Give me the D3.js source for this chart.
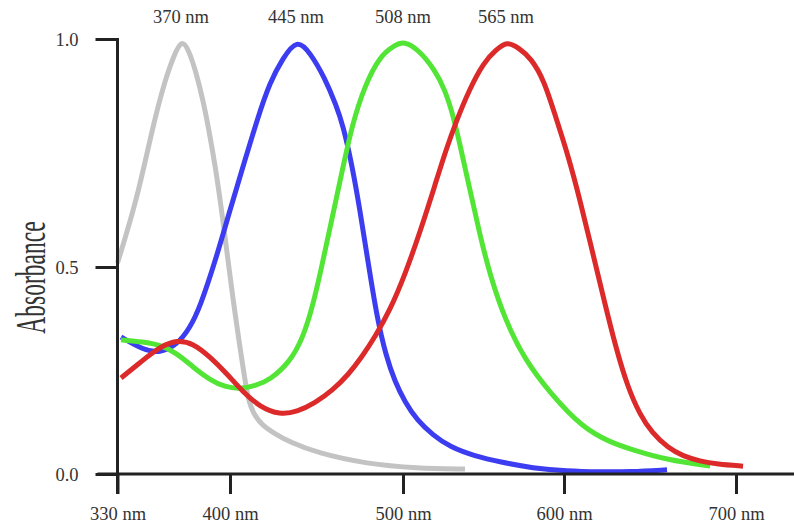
<!DOCTYPE html>
<html>
<head>
<meta charset="utf-8">
<script src="https://cdn.jsdelivr.net/npm/d3@7"></script>
<style>
  body { margin: 0; background: #fff; }
  svg text { font-family: "Liberation Serif", "Times New Roman", serif; fill: #333; }
</style>
</head>
<body>
<div id="chart"></div>
<script>
// wavelength (nm) / absorbance pairs
const grayCurve = [
  [330, 0.509], [342.1, 0.647], [352.1, 0.811], [359.6, 0.910], [365.2, 0.965],
  [370.1, 1.0], [374.5, 0.974], [378.8, 0.928], [383.2, 0.866], [386.9, 0.800],
  [390.7, 0.724], [395.0, 0.621], [401.7, 0.420], [407.5, 0.258], [410.4, 0.179],
  [413.9, 0.143], [418.5, 0.118], [426.0, 0.097], [434.7, 0.077], [450.3, 0.051],
  [479.2, 0.024], [508.7, 0.014], [538.5, 0.012]
];
const blueCurve = [
  [332.2, 0.331], [345.9, 0.300], [356.4, 0.292], [367.0, 0.312], [375.1, 0.353],
  [381.3, 0.403], [390.7, 0.511], [400, 0.625], [408.7, 0.735], [415.6, 0.822],
  [423.1, 0.906], [430.6, 0.958], [438.7, 1.0], [446.2, 0.971], [454.9, 0.914],
  [461.3, 0.855], [465.3, 0.811], [470.5, 0.724], [475.1, 0.625], [479.8, 0.511],
  [485.0, 0.377], [490.2, 0.285], [495.4, 0.222], [501.2, 0.174], [508.7, 0.130],
  [518.6, 0.094], [529.2, 0.065], [544.7, 0.043], [560.2, 0.029], [580.7, 0.014],
  [601.7, 0.007], [620.9, 0.005], [638.4, 0.005], [659.9, 0.010]
];
const greenCurve = [
  [332.2, 0.324], [345.9, 0.319], [356.4, 0.312], [367.0, 0.292], [377.0, 0.258],
  [387.6, 0.227], [396.9, 0.210], [405.8, 0.205], [414.5, 0.213], [423.1, 0.227],
  [434.7, 0.271], [442.2, 0.329], [448.0, 0.408], [453.2, 0.504], [459.0, 0.607],
  [464.7, 0.708], [470.5, 0.811], [478.0, 0.899], [486.7, 0.963], [495.4, 0.987],
  [500.6, 0.995], [509.3, 0.978], [519.9, 0.932], [526.1, 0.888], [531.1, 0.833],
  [535.4, 0.768], [541.6, 0.669], [547.8, 0.570], [554.0, 0.481], [563.4, 0.372],
  [575.8, 0.275], [591.3, 0.196], [611.0, 0.111], [626.7, 0.077], [640.1, 0.058],
  [659.9, 0.034], [684.9, 0.019]
];
const redCurve = [
  [332.2, 0.232], [345.9, 0.275], [356.4, 0.307], [367.0, 0.324], [377.0, 0.316],
  [387.6, 0.283], [398.1, 0.242], [407.5, 0.198], [417.3, 0.162], [428.9, 0.143],
  [438.7, 0.150], [449.1, 0.171], [459.5, 0.203], [468.2, 0.239], [476.3, 0.283],
  [483.8, 0.331], [492.5, 0.396], [501.2, 0.481], [510.6, 0.577], [519.9, 0.680],
  [526.7, 0.757], [532.9, 0.818], [541.0, 0.888], [550.3, 0.950], [557.8, 0.976],
  [564.6, 0.995], [572.0, 0.980], [579.5, 0.958], [587.6, 0.910], [595.0, 0.827],
  [602.3, 0.746], [609.3, 0.647], [616.3, 0.537], [623.3, 0.420], [630.2, 0.304],
  [637.2, 0.208], [644.2, 0.143], [651.2, 0.099], [660.5, 0.063], [669.2, 0.043],
  [679.1, 0.031], [689.0, 0.024], [704.1, 0.019]
];
const peakLabels = ["370 nm", "445 nm", "508 nm", "565 nm"];
const xTicks = [330, 400, 500, 600, 700];
const yTicks = [0, 0.5, 1.0];

const width = 794, height = 524;

const series = [
  { name: peakLabels[0], values: grayCurve,  color: "#c3c3c3" },
  { name: peakLabels[1], values: blueCurve,  color: "#3c3cf0" },
  { name: peakLabels[2], values: greenCurve, color: "#52e536" },
  { name: peakLabels[3], values: redCurve,   color: "#dc2a2a" }
];

// the original drawing is not evenly spaced, so both scales are piecewise
const x = d3.scaleLinear()
    .domain(xTicks)
    .range([117.5, 230, 403, 564, 736]);
const y = d3.scaleLinear()
    .domain(yTicks)
    .range([474, 267, 39]);

const svg = d3.select("#chart").append("svg")
    .attr("width", width)
    .attr("height", height);

const line = d3.line()
    .x(d => x(d[0]))
    .y(d => y(d[1]))
    .curve(d3.curveBasis);

svg.selectAll("path.curve")
  .data(series)
  .join("path")
    .attr("class", "curve")
    .attr("d", d => line(d.values))
    .attr("fill", "none")
    .attr("stroke", d => d.color)
    .attr("stroke-width", 5)
    .attr("stroke-linecap", "butt")
    .attr("stroke-linejoin", "round");

// peak labels sit above each curve's maximum
svg.selectAll("text.peak")
  .data(series)
  .join("text")
    .attr("class", "peak")
    .attr("x", d => x(d3.greatest(d.values, v => v[1])[0]) - 1)
    .attr("y", 22.5)
    .attr("text-anchor", "middle")
    .style("font-size", "18.5px")
    .text(d => d.name);

// x axis
const xAxis = svg.append("g")
    .attr("transform", "translate(0," + y(0) + ")")
    .call(d3.axisBottom(x)
        .tickValues(xTicks)
        .tickSize(20)
        .tickPadding(13)
        .tickFormat(d => d + " nm"));
xAxis.select(".domain").remove();
xAxis.append("line")
    .attr("x1", x(330) - 20)
    .attr("x2", width)
    .attr("stroke", "#222")
    .attr("stroke-width", 3);
xAxis.selectAll(".tick line").attr("stroke", "#222").attr("stroke-width", 3);
xAxis.selectAll(".tick text")
    .style("font-size", "18.5px")
    .style("font-family", "Liberation Serif")
    .attr("fill", "#333");

// y axis
const yAxis = svg.append("g")
    .attr("transform", "translate(" + x(330) + ",0)")
    .call(d3.axisLeft(y)
        .tickValues(yTicks)
        .tickSize(22)
        .tickPadding(17)
        .tickFormat(d3.format(".1f")));
yAxis.select(".domain").remove();
yAxis.append("line")
    .attr("y1", y(1) - 1)
    .attr("y2", y(0) + 20)
    .attr("stroke", "#222")
    .attr("stroke-width", 3);
yAxis.selectAll(".tick line").attr("stroke", "#222").attr("stroke-width", 3);
yAxis.selectAll(".tick text")
    .attr("dy", "0.33em")
    .style("font-size", "18.5px")
    .style("font-family", "Liberation Serif")
    .attr("fill", "#333");

svg.append("text")
    .attr("transform", "translate(45,277.5) rotate(-90) scale(0.56,1)")
    .attr("text-anchor", "middle")
    .style("font-size", "42px")
    .text("Absorbance");
</script>
</body>
</html>
